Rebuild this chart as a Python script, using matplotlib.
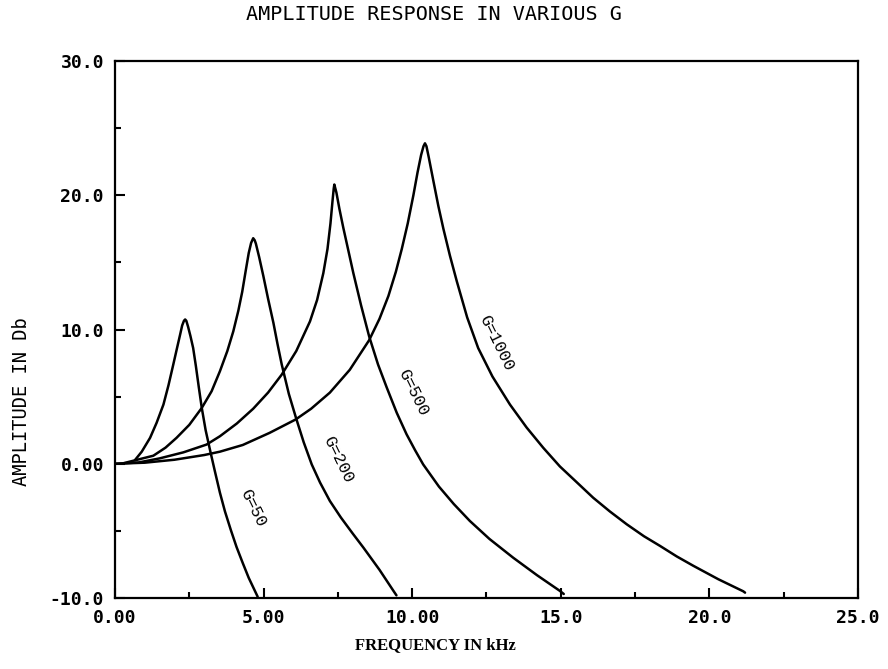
import matplotlib.pyplot as plt
from matplotlib.ticker import MultipleLocator, FixedLocator

# values (frequency in kHz, amplitude in dB)
g50_f = [0.67, 0.9, 1.18, 1.4, 1.63, 1.8, 1.96, 2.08, 2.19, 2.26, 2.32, 2.36, 2.40, 2.46,
         2.54, 2.63, 2.72, 2.82, 2.92, 3.05, 3.20, 3.36, 3.53, 3.70, 3.90, 4.09, 4.30, 4.50, 4.80]
g50_db = [0.27, 0.9, 1.93, 3.05, 4.41, 5.85, 7.38, 8.55, 9.61, 10.3, 10.65, 10.75, 10.65, 10.2,
          9.5, 8.62, 7.3, 5.7, 4.16, 2.5, 1.0, -0.55, -2.15, -3.55, -4.95, -6.2, -7.4, -8.5, -9.9]

g200_f = [0.3, 1.29, 1.7, 2.07, 2.5, 2.92, 3.25, 3.53, 3.78, 3.98, 4.15, 4.28, 4.40, 4.50,
          4.58, 4.65, 4.70, 4.74, 4.85, 4.99, 5.15, 5.33, 5.47, 5.61, 5.85, 6.09, 6.35, 6.62,
          6.9, 7.23, 7.6, 8.0, 8.36, 8.9, 9.37, 9.47]
g200_db = [0.05, 0.6, 1.2, 1.93, 2.9, 4.16, 5.4, 6.89, 8.4, 9.86, 11.4, 12.8, 14.4, 15.7,
           16.45, 16.8, 16.65, 16.4, 15.4, 14.0, 12.3, 10.5, 8.9, 7.4, 5.2, 3.42, 1.6, -0.05,
           -1.4, -2.77, -4.0, -5.2, -6.25, -7.9, -9.47, -9.8]

g500_f = [0.0, 0.8, 1.5, 2.3, 3.08, 3.53, 4.1, 4.65, 5.15, 5.61, 6.1, 6.56, 6.8, 7.01, 7.15,
          7.25, 7.32, 7.36, 7.38, 7.45, 7.55, 7.68, 7.85, 8.02, 8.28, 8.55, 8.85, 9.14, 9.48,
          9.81, 10.1, 10.37, 10.9, 11.4, 11.94, 12.6, 13.4, 14.2, 14.97, 15.1]
g500_db = [0.0, 0.1, 0.4, 0.85, 1.43, 2.05, 3.0, 4.1, 5.3, 6.64, 8.4, 10.6, 12.2, 14.2, 16.0,
           17.9, 19.6, 20.5, 20.8, 20.2, 19.0, 17.6, 15.9, 14.2, 11.8, 9.5, 7.4, 5.7, 3.8,
           2.2, 1.0, -0.05, -1.7, -3.0, -4.26, -5.6, -7.0, -8.3, -9.47, -9.7]

g1000_f = [0.0, 1.0, 2.0, 3.0, 3.53, 4.3, 5.2, 6.08, 6.6, 7.23, 7.9, 8.55, 8.9, 9.2, 9.45,
           9.65, 9.85, 10.04, 10.18, 10.30, 10.38, 10.43, 10.48, 10.56, 10.71, 10.88, 11.05,
           11.27, 11.5, 11.85, 12.22, 12.7, 13.29, 13.85, 14.41, 14.97, 15.5, 16.09, 16.65,
           17.22, 17.8, 18.34, 18.9, 19.46, 20.3, 21.14, 21.2]
g1000_db = [0.0, 0.08, 0.3, 0.65, 0.9, 1.4, 2.3, 3.3, 4.1, 5.3, 7.0, 9.2, 10.8, 12.5, 14.3,
            16.0, 17.9, 20.0, 21.7, 23.0, 23.65, 23.87, 23.65, 22.8, 21.1, 19.2, 17.5,
            15.5, 13.6, 10.9, 8.62, 6.5, 4.41, 2.7, 1.19, -0.2, -1.3, -2.53, -3.55,
            -4.51, -5.4, -6.12, -6.9, -7.6, -8.6, -9.5, -9.6]

curves = [(g50_f, g50_db), (g200_f, g200_db), (g500_f, g500_db), (g1000_f, g1000_db)]

# label text, anchor position in data units
labels = ["G=50", "G=200", "G=500", "G=1000"]
label_f = [4.65, 7.5, 10.04, 12.84]
label_db = [-3.3, 0.3, 5.3, 9.0]

xtick_vals = [0, 5, 10, 15, 20, 25]
xtick_txt = ["0.00", "5.00", "10.00", "15.0", "20.0", "25.0"]
ytick_vals = [-10, 0, 10, 20, 30]
ytick_txt = ["-10.0", "0.00", "10.0", "20.0", "30.0"]

fig = plt.figure(figsize=(8.88, 6.69), dpi=100)
ax = fig.add_axes([0.1295, 0.1061, 0.8367, 0.8027])

for f, db in curves:
    ax.plot(f, db, color="black", lw=1.8, solid_joinstyle="round", solid_capstyle="round")

for t, x, y in zip(labels, label_f, label_db):
    ax.text(x, y, t, rotation=-64, ha="center", va="center",
            fontsize=12, family="Liberation Mono")

ax.set_xlim(0, 25)
ax.set_ylim(-10, 30)
ax.xaxis.set_major_locator(FixedLocator(xtick_vals))
ax.yaxis.set_major_locator(FixedLocator(ytick_vals))
ax.set_xticklabels(xtick_txt)
ax.set_yticklabels(ytick_txt)
ax.xaxis.set_minor_locator(MultipleLocator(2.5))
ax.yaxis.set_minor_locator(MultipleLocator(5))
ax.tick_params(which="both", direction="in", width=1.5, top=False, right=False)
ax.tick_params(which="major", length=7, pad=8)
ax.tick_params(which="minor", length=4)
for lab in ax.get_xticklabels() + ax.get_yticklabels():
    lab.set_family("DejaVu Sans Mono")
    lab.set_fontweight("bold")
    lab.set_fontsize(13)
for s in ax.spines.values():
    s.set_linewidth(1.6)

fig.text(0.489, 0.978, "AMPLITUDE RESPONSE IN VARIOUS G", ha="center", va="center",
         fontsize=14.5, family="DejaVu Sans Mono")
fig.text(0.024, 0.40, "AMPLITUDE IN Db", rotation=90, ha="center", va="center",
         fontsize=13.5, family="DejaVu Sans Mono")
fig.text(0.49, 0.035, "FREQUENCY IN kHz", ha="center", va="center",
         fontsize=12, family="Liberation Serif", fontweight="bold")

plt.savefig("out.png", dpi=100)
